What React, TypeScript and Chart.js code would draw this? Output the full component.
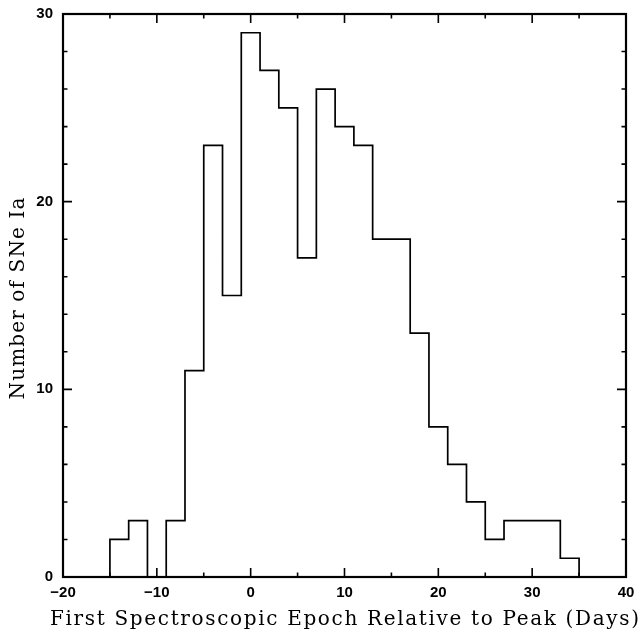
import React, { useEffect, useRef } from "react";
import { Chart, registerables } from "chart.js";

Chart.register(...registerables);

// Histogram bins (left edges, days) and counts
const binStarts = [-15, -13, -11, -9, -7, -5, -3, -1, 1, 3, 5, 7, 9, 11, 13, 15, 17, 19, 21, 23, 25, 27, 29, 31, 33];
const binWidth = 2;
const counts = [2, 3, 0, 3, 11, 23, 15, 29, 27, 25, 17, 26, 24, 23, 18, 18, 13, 8, 6, 4, 2, 3, 3, 3, 1];

const xMajorTicks = [-20, -10, 0, 10, 20, 30, 40];
const xMinorTicks = [-15, -5, 5, 15, 25, 35];
const yMajorTicks = [0, 10, 20, 30];
const yMinorTicks = [2, 4, 6, 8, 12, 14, 16, 18, 22, 24, 26, 28];

const xTitle = "First Spectroscopic Epoch Relative to Peak (Days)";
const yTitle = "Number of SNe Ia";

const drawSpaced = (ctx: any, text: string, cx: number, cy: number, target: number) => {
  ctx.letterSpacing = "0px";
  const w = ctx.measureText(text).width;
  const sp = Math.max(0, (target - w) / (text.length - 1));
  ctx.letterSpacing = sp + "px";
  ctx.textAlign = "left";
  ctx.fillText(text, cx - target / 2, cy);
  ctx.letterSpacing = "0px";
};

const framePlugin = {
  id: "frame",
  afterDatasetsDraw(chart: any) {
    const { ctx, chartArea, scales } = chart;
    const { left, right, top, bottom } = chartArea;
    const x = scales.x;
    const y = scales.y;
    ctx.save();
    ctx.strokeStyle = "#000";
    ctx.lineWidth = 1.6;
    const major = 9;
    const minor = 4.5;
    const tickX = (vals: number[], len: number) => {
      vals.forEach((v) => {
        const px = x.getPixelForValue(v);
        ctx.beginPath();
        ctx.moveTo(px, bottom);
        ctx.lineTo(px, bottom - len);
        ctx.moveTo(px, top);
        ctx.lineTo(px, top + len);
        ctx.stroke();
      });
    };
    const tickY = (vals: number[], len: number) => {
      vals.forEach((v) => {
        const py = y.getPixelForValue(v);
        ctx.beginPath();
        ctx.moveTo(left, py);
        ctx.lineTo(left + len, py);
        ctx.moveTo(right, py);
        ctx.lineTo(right - len, py);
        ctx.stroke();
      });
    };
    tickX(xMajorTicks, major);
    tickX(xMinorTicks, minor);
    tickY(yMajorTicks, major);
    tickY(yMinorTicks, minor);
    ctx.lineWidth = 2.2;
    ctx.strokeRect(left, top, right - left, bottom - top);

    ctx.fillStyle = "#000";
    ctx.font = '20px "DejaVu Serif"';
    ctx.textBaseline = "alphabetic";
    drawSpaced(ctx, xTitle, (left + right) / 2, 625, 589);
    ctx.save();
    ctx.translate(24, (top + bottom) / 2 + 3);
    ctx.rotate(-Math.PI / 2);
    drawSpaced(ctx, yTitle, 0, 0, 202);
    ctx.restore();
    ctx.restore();
  },
};

export default function App() {
  const canvasRef = useRef<HTMLCanvasElement | null>(null);

  useEffect(() => {
    document.body.style.margin = "0";
    const canvas = canvasRef.current;
    if (!canvas) return;
    const points: { x: number; y: number }[] = [{ x: binStarts[0], y: 0 }];
    binStarts.forEach((s, i) => points.push({ x: s, y: counts[i] }));
    points.push({ x: binStarts[binStarts.length - 1] + binWidth, y: 0 });

    const tickFont = { family: "Liberation Sans", size: 15, weight: "bold" as const };

    const chart = new Chart(canvas, {
      type: "line",
      data: {
        datasets: [
          {
            data: points,
            stepped: "before",
            borderColor: "#000",
            borderWidth: 1.7,
            pointRadius: 0,
            fill: false,
            tension: 0,
          },
        ],
      },
      options: {
        animation: false,
        responsive: true,
        maintainAspectRatio: false,
        layout: { padding: { left: 0, top: 14, right: 15, bottom: 0 } },
        plugins: { legend: { display: false }, tooltip: { enabled: false } },
        scales: {
          x: {
            type: "linear",
            min: -20,
            max: 40,
            grid: { display: false, drawTicks: false },
            border: { display: false },
            afterBuildTicks: (scale: any) => {
              scale.ticks = xMajorTicks.map((v) => ({ value: v }));
            },
            afterFit: (scale: any) => {
              scale.height = 53;
              scale.paddingLeft = 0;
              scale.paddingRight = 0;
            },
            ticks: {
              color: "#000",
              font: tickFont,
              padding: 7,
              maxRotation: 0,
              autoSkip: false,
              callback: (v: any) => String(v).replace("-", "\u2212"),
            },
          },
          y: {
            type: "linear",
            min: 0,
            max: 30,
            grid: { display: false, drawTicks: false },
            border: { display: false },
            afterBuildTicks: (scale: any) => {
              scale.ticks = yMajorTicks.map((v) => ({ value: v }));
            },
            afterFit: (scale: any) => {
              scale.width = 63;
              scale.paddingTop = 0;
              scale.paddingBottom = 0;
            },
            ticks: {
              color: "#000",
              font: tickFont,
              padding: 10,
              autoSkip: false,
            },
          },
        },
      },
      plugins: [framePlugin],
    });
    return () => chart.destroy();
  }, []);

  return (
    <div style={{ position: "relative", width: 641, height: 630, background: "#fff" }}>
      <canvas ref={canvasRef} />
    </div>
  );
}
